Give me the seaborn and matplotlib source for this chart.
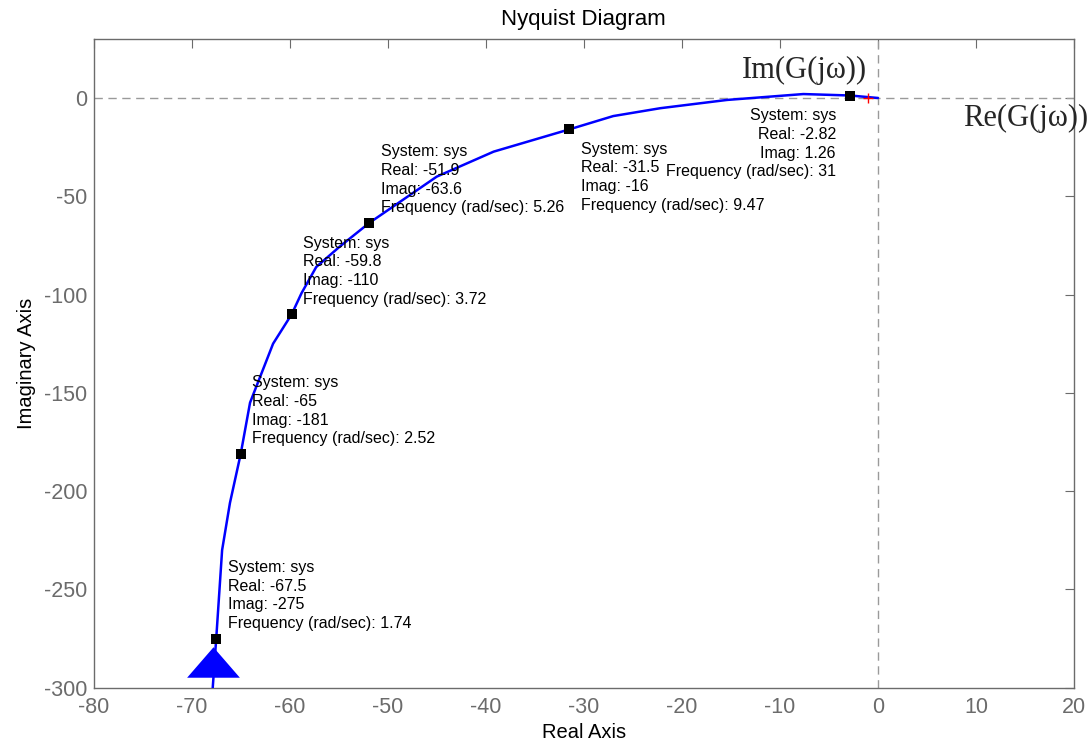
import numpy as np
import pandas as pd
import matplotlib
matplotlib.use('Agg')
import matplotlib.pyplot as plt
import seaborn as sns

# Nyquist curve (real, imag)
curve_re = [-68.0, -67.5, -66.9, -66.1, -65.0, -64.05, -61.7, -59.8, -58.8, -57.3,
            -54.9, -51.9, -45.0, -39.2, -31.5, -27.0, -22.2, -15.4, -7.6, -2.82, 0.0]
curve_im = [-310, -275, -230, -206, -181, -155, -125, -110, -99.3, -86,
            -75.6, -63.6, -40.0, -27.3, -16.0, -9.2, -5.2, -1.0, 2.0, 1.26, 0.0]

# data tips
tip_re = [-67.5, -65, -59.8, -51.9, -31.5, -2.82]
tip_im = [-275, -181, -110, -63.6, -16, 1.26]
tip_freq = ['1.74', '2.52', '3.72', '5.26', '9.47', '31']
tip_re_lbl = ['-67.5', '-65', '-59.8', '-51.9', '-31.5', '-2.82']
tip_im_lbl = ['-275', '-181', '-110', '-63.6', '-16', '1.26']

# direction arrow and critical point
arrow_re = [-67.85]
arrow_im = [-286.9]
crit_re = [-1]
crit_im = [0]

xticks = list(range(-80, 21, 10))
yticks = list(range(-300, 1, 50))

sns.set_style('white')
plt.rcParams['font.family'] = ['Liberation Sans', 'DejaVu Sans']
plt.rcParams['axes.unicode_minus'] = False

fig = plt.figure(figsize=(10.87, 7.46), dpi=100)
ax = fig.add_axes([0.0862, 0.0782, 0.9018, 0.8695])

gray = '#6b6b6b'
ax.axhline(0, color='#9a9a9a', lw=1, ls=(0, (6, 4)), zorder=1)
ax.axvline(0, color='#9a9a9a', lw=1, ls=(0, (6, 4)), zorder=1)

df = pd.DataFrame({'re': curve_re, 'im': curve_im})
sns.lineplot(data=df, x='re', y='im', sort=False, color='#0000ff', lw=1.8, ax=ax, zorder=3)

tri = [(-1, -0.577), (1, -0.577), (0, 0.577), (-1, -0.577)]
ax.plot(arrow_re, arrow_im, ls='none', marker=tri, markersize=38, color='#0000ff',
        markeredgewidth=0, zorder=4)

ax.plot(crit_re, crit_im, ls='none', marker='+', markersize=7, color='red', mew=1, zorder=4)

tips = pd.DataFrame({'re': tip_re, 'im': tip_im})
sns.scatterplot(data=tips, x='re', y='im', marker='s', s=45, color='black',
                edgecolor='black', linewidth=0, ax=ax, zorder=5)

# data tip text, one line at a time: (dx pt, first line dy pt, ha)
line_step = 13.45
tip_place = [(8.35, 10.8 + 3 * line_step, 'left'), (8.35, 10.8 + 3 * line_step, 'left'),
             (8.35, 10.8 + 3 * line_step, 'left'), (8.35, 10.8 + 3 * line_step, 'left'),
             (8.35, -14.2, 'left'), (-10.3, -14.6, 'right')]
for i in range(len(tip_re)):
    lines = ['System: sys', f'Real: {tip_re_lbl[i]}', f'Imag: {tip_im_lbl[i]}',
             f'Frequency (rad/sec): {tip_freq[i]}']
    dx, dy0, ha = tip_place[i]
    for k, line in enumerate(lines):
        ax.annotate(line, (tip_re[i], tip_im[i]), xytext=(dx, dy0 - k * line_step),
                    textcoords='offset points', ha=ha, va='center', fontsize=11.5,
                    color='black', zorder=6)

ax.text(-1.1, 10.0, 'Im(G(jω))', family=['Liberation Serif', 'DejaVu Serif'],
        fontsize=22, ha='right', va='baseline')
ax.text(8.7, -14.2, 'Re(G(jω))', family=['Liberation Serif', 'DejaVu Serif'],
        fontsize=22, ha='left', va='baseline', clip_on=False)

ax.set_xlim(-80, 20)
ax.set_ylim(-300, 30)
ax.set_xticks(xticks)
ax.set_yticks(yticks)
ax.tick_params(direction='in', length=6.5, width=0.8, colors=gray, labelsize=15.5,
               top=True, right=True)
ax.tick_params(axis='x', pad=6.5)
ax.tick_params(axis='y', pad=4.5)
for s in ax.spines.values():
    s.set_color(gray)
    s.set_linewidth(1.0)

ax.set_xlabel('Real Axis', fontsize=14.5, color='black', labelpad=4)
ax.set_ylabel('Imaginary Axis', fontsize=14.5, color='black', labelpad=6)
ax.set_title('Nyquist Diagram', fontsize=16, color='black', pad=10)

fig.savefig('out.png', dpi=100)
